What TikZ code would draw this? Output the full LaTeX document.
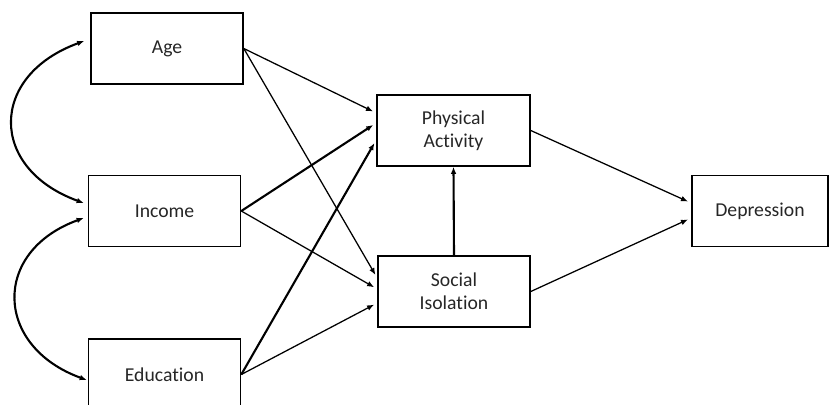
\documentclass[tikz,border=0pt]{standalone}
\usepackage{fontspec}
\setmainfont{Carlito}[Ligatures=NoCommon]
\usepackage{tikz}
\usetikzlibrary{arrows.meta,calc}

\begin{document}
\begin{tikzpicture}[x=0.025cm, y=0.025cm, >={Latex[length=5pt,width=4pt]},
		main/.style = {draw, line width=1.1pt, minimum width=3.8cm, minimum height=1.775cm, inner sep=0pt, align=center, text=black!85, font=\fontsize{14}{16.5}\selectfont},
		arr/.style = {->, line width=0.9pt, shorten >=2.5pt},
		heavy/.style = {->, line width=1.5pt, shorten >=2.5pt}]
		\useasboundingbox (0,0) rectangle (830,404);
		\node[main] (age) at (167,355.5) {Age};
		\node[main] (inc) at (164.5,193) {Income};
		\node[main] (edu) at (164.5,29.5) {Education};
		\node[main, minimum width=3.825cm] (pa) at (453.5,273.5) {Physical\\Activity};
		\node[main] (si) at (454,112.5) {Social\\Isolation};
		\node[main, minimum width=3.4cm] (dep) at (760,193) {Depression};

		% covariances
		\draw[<->, line width=1.5pt] ($(age.west)+(-6,7.5)$) to[out=200, in=160, looseness=1.6] ($(inc.west)+(-4,8)$);
		\draw[<->, line width=1.5pt] ($(inc.west)+(-4,-7)$) to[out=200, in=160, looseness=1.55] ($(edu.west)+(-1,-5.5)$);

		% paths to mediators
		\draw[arr] (age.east) -- ($(pa.west)+(0,17.5)$);
		\draw[heavy] (inc.east) -- ($(pa.west)+(0,7.5)$);
		\draw[heavy] (edu.east) -- ($(pa.west)+(0,-9.5)$);
		\draw[arr] (age.east) -- ($(si.west)+(0,13.5)$);
		\draw[arr] (inc.east) -- ($(si.west)+(0,2.5)$);
		\draw[arr] (edu.east) -- ($(si.west)+(0,-11.5)$);
		\draw[heavy, shorten >=0pt] (si.north) -- (pa.south);

		% paths to outcome
		\draw[arr] (pa.east) -- ($(dep.west)+(0,8)$);
		\draw[arr] (si.east) -- ($(dep.west)+(0,-7)$);
	\end{tikzpicture}
\end{document}
